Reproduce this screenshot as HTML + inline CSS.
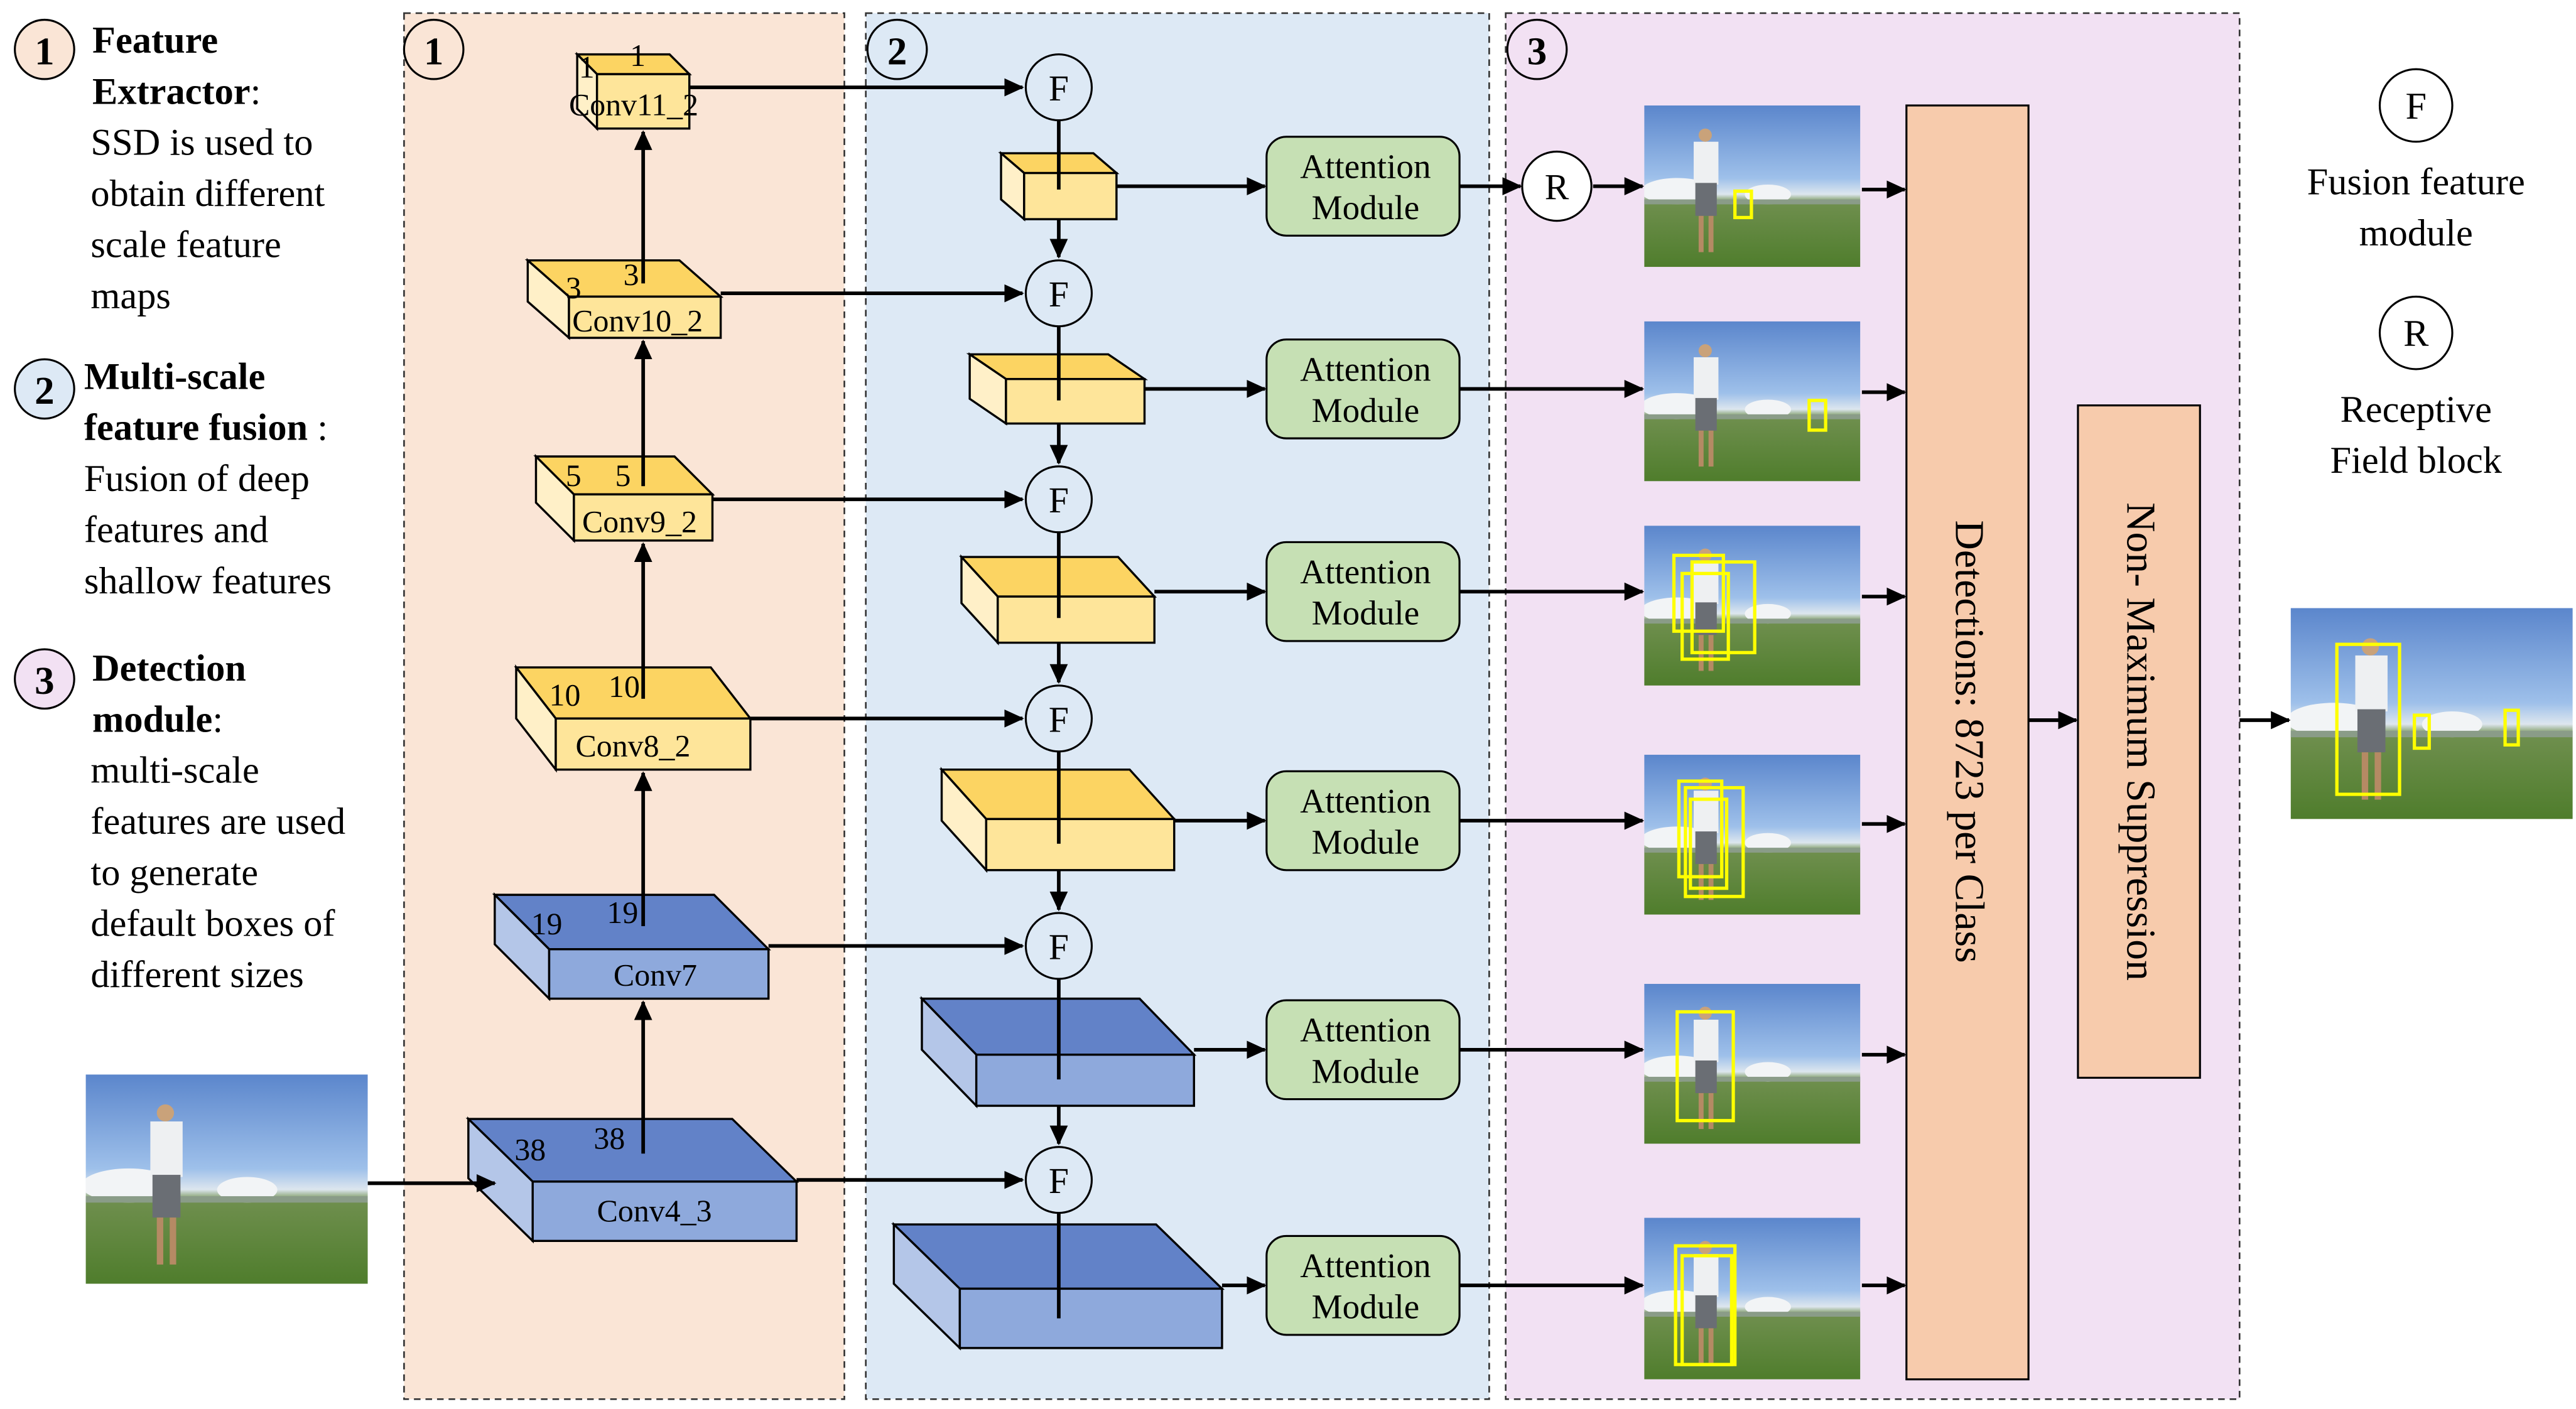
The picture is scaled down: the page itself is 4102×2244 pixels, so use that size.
<!DOCTYPE html>
<html><head><meta charset="utf-8"><style>
html,body{margin:0;padding:0;background:#fff}
svg{display:block}
text{font-family:"Liberation Serif","Times New Roman","DejaVu Serif",serif;fill:#000}
</style></head><body>
<svg width="4102" height="2244" viewBox="0 0 1562 855" preserveAspectRatio="none" xmlns="http://www.w3.org/2000/svg" font-family="Liberation Serif, Times New Roman, DejaVu Serif, serif">
<defs>
<marker id="ah" markerWidth="12" markerHeight="12" refX="11" refY="6" orient="auto" markerUnits="userSpaceOnUse"><path d="M0,0.5 L12,6 L0,11.5 z" fill="#000"/></marker>
<linearGradient id="sky" x1="0" y1="0" x2="0" y2="1"><stop offset="0" stop-color="#5b86cc"/><stop offset="0.45" stop-color="#9ec0ea"/><stop offset="0.55" stop-color="#dde6ee"/><stop offset="0.6" stop-color="#6f8f4e"/><stop offset="1" stop-color="#4f7d2c"/></linearGradient>
<symbol id="pic" viewBox="0 0 131 98" preserveAspectRatio="none">
<rect width="131" height="98" fill="url(#sky)"/>
<ellipse cx="20" cy="52" rx="22" ry="8" fill="#f2f4f6"/>
<ellipse cx="75" cy="54" rx="14" ry="6" fill="#f2f4f6"/>
<rect x="0" y="57" width="131" height="3" fill="#8a9c88"/>
<rect x="30" y="22" width="15" height="26" fill="#eef0f2"/>
<rect x="31" y="47" width="13" height="20" fill="#6a6e74"/>
<circle cx="37" cy="18" r="4" fill="#c9a27a"/>
<rect x="33" y="67" width="3" height="22" fill="#b58a64"/><rect x="39" y="67" width="3" height="22" fill="#b58a64"/>
</symbol>
</defs>

<rect x="245" y="8" width="267" height="841" fill="#fae5d6" stroke="#333" stroke-dasharray="4,3"/>
<rect x="525" y="8" width="378" height="841" fill="#dde9f5" stroke="#333" stroke-dasharray="4,3"/>
<rect x="913" y="8" width="445" height="841" fill="#f2e1f3" stroke="#333" stroke-dasharray="4,3"/>

<g stroke="#000" stroke-width="1.2">
<circle cx="263" cy="30" r="18" fill="none"/>
<circle cx="544" cy="30" r="18" fill="none"/>
<circle cx="932" cy="30" r="18" fill="none"/>
<circle cx="27" cy="30" r="18" fill="#fae5d6"/>
<circle cx="27" cy="236" r="18" fill="#dde9f5"/>
<circle cx="27" cy="412" r="18" fill="#f2e1f3"/>
</g>
<g font-weight="bold" font-size="24" text-anchor="middle">
<text x="263" y="39">1</text><text x="544" y="39">2</text><text x="932" y="39">3</text>
<text x="27" y="39">1</text><text x="27" y="245">2</text><text x="27" y="421">3</text>
</g>

<g font-size="23">
<text x="56" y="32" font-weight="bold">Feature</text>
<text x="56" y="63"><tspan font-weight="bold">Extractor</tspan>:</text>
<text x="55" y="94">SSD is used to</text>
<text x="55" y="125">obtain different</text>
<text x="55" y="156">scale  feature</text>
<text x="55" y="187">maps</text>
<text x="51" y="236" font-weight="bold">Multi-scale</text>
<text x="51" y="267"><tspan font-weight="bold">feature fusion</tspan> :</text>
<text x="51" y="298">Fusion of deep</text>
<text x="51" y="329">features and</text>
<text x="51" y="360">shallow features</text>
<text x="56" y="413" font-weight="bold">Detection</text>
<text x="56" y="444"><tspan font-weight="bold">module</tspan>:</text>
<text x="55" y="475">multi-scale</text>
<text x="55" y="506">features are used</text>
<text x="55" y="537">to generate</text>
<text x="55" y="568">default boxes of</text>
<text x="55" y="599">different sizes</text>
</g>

<g stroke="#000" stroke-width="1.2" fill="#fff">
<circle cx="1465" cy="64" r="22"/><circle cx="1465" cy="202" r="22"/>
</g>
<g font-size="23" text-anchor="middle">
<text x="1465" y="72">F</text><text x="1465" y="210">R</text>
<text x="1465" y="118">Fusion feature</text><text x="1465" y="149">module</text>
<text x="1465" y="256">Receptive</text><text x="1465" y="287">Field block</text>
</g>

<g stroke="#000" stroke-width="1.3">
<polygon points="350,33 406,33 418,45 362,45" fill="#fcd462"/>
<polygon points="350,33 362,45 362,78 350,66" fill="#fff0c8"/>
<rect x="362" y="45" width="56" height="33" fill="#fee59a"/>
<polygon points="320,158 412,158 437,180 345,180" fill="#fcd462"/>
<polygon points="320,158 345,180 345,205 320,183" fill="#fff0c8"/>
<rect x="345" y="180" width="92" height="25" fill="#fee59a"/>
<polygon points="325,277 409,277 432,300 348,300" fill="#fcd462"/>
<polygon points="325,277 348,300 348,328 325,305" fill="#fff0c8"/>
<rect x="348" y="300" width="84" height="28" fill="#fee59a"/>
<polygon points="313,405 431,405 455,436 337,436" fill="#fcd462"/>
<polygon points="313,405 337,436 337,467 313,436" fill="#fff0c8"/>
<rect x="337" y="436" width="118" height="31" fill="#fee59a"/>
<polygon points="300,543 433,543 466,576 333,576" fill="#6282c8"/>
<polygon points="300,543 333,576 333,606 300,573" fill="#b4c6e8"/>
<rect x="333" y="576" width="133" height="30" fill="#8ea9dc"/>
<polygon points="284,679 444,679 483,717 323,717" fill="#6282c8"/>
<polygon points="284,679 323,717 323,753 284,715" fill="#b4c6e8"/>
<rect x="323" y="717" width="160" height="36" fill="#8ea9dc"/>

<polygon points="607,93 663,93 677,105 621,105" fill="#fcd462"/>
<polygon points="607,93 621,105 621,133 607,121" fill="#fff0c8"/>
<rect x="621" y="105" width="56" height="28" fill="#fee59a"/>
<polygon points="588,215 672,215 694,230 610,230" fill="#fcd462"/>
<polygon points="588,215 610,230 610,257 588,242" fill="#fff0c8"/>
<rect x="610" y="230" width="84" height="27" fill="#fee59a"/>
<polygon points="583,338 678,338 700,362 605,362" fill="#fcd462"/>
<polygon points="583,338 605,362 605,390 583,366" fill="#fff0c8"/>
<rect x="605" y="362" width="95" height="28" fill="#fee59a"/>
<polygon points="571,467 685,467 712,497 598,497" fill="#fcd462"/>
<polygon points="571,467 598,497 598,528 571,498" fill="#fff0c8"/>
<rect x="598" y="497" width="114" height="31" fill="#fee59a"/>
<polygon points="559,606 691,606 724,640 592,640" fill="#6282c8"/>
<polygon points="559,606 592,640 592,671 559,637" fill="#b4c6e8"/>
<rect x="592" y="640" width="132" height="31" fill="#8ea9dc"/>
<polygon points="542,743 701,743 741,782 582,782" fill="#6282c8"/>
<polygon points="542,743 582,782 582,818 542,779" fill="#b4c6e8"/>
<rect x="582" y="782" width="159" height="36" fill="#8ea9dc"/>
</g>

<g font-size="19">
<text x="345" y="70">Conv11_2</text>
<text x="347" y="201">Conv10_2</text>
<text x="353" y="323">Conv9_2</text>
<text x="349" y="459">Conv8_2</text>
<text x="372" y="598">Conv7</text>
<text x="362" y="741">Conv4_3</text>
<text x="351" y="47">1</text><text x="382" y="40">1</text>
<text x="343" y="181">3</text><text x="378" y="173">3</text>
<text x="343" y="295">5</text><text x="373" y="295">5</text>
<text x="333" y="428">10</text><text x="369" y="423">10</text>
<text x="322" y="567">19</text><text x="368" y="560">19</text>
<text x="312" y="704">38</text><text x="360" y="697">38</text>
</g>

<g stroke="#000" stroke-width="2.2" marker-end="url(#ah)">
<line x1="390" y1="700" x2="390" y2="608"/>
<line x1="390" y1="562" x2="390" y2="469"/>
<line x1="390" y1="424" x2="390" y2="330"/>
<line x1="390" y1="295" x2="390" y2="207"/>
<line x1="390" y1="172" x2="390" y2="80"/>
<line x1="418" y1="53" x2="620" y2="53"/>
<line x1="437" y1="178" x2="620" y2="178"/>
<line x1="432" y1="303" x2="620" y2="303"/>
<line x1="455" y1="436" x2="620" y2="436"/>
<line x1="466" y1="574" x2="620" y2="574"/>
<line x1="483" y1="716" x2="620" y2="716"/>
<line x1="223" y1="718" x2="300" y2="718"/>
<line x1="642" y1="133" x2="642" y2="156"/>
<line x1="642" y1="257" x2="642" y2="281"/>
<line x1="642" y1="390" x2="642" y2="414"/>
<line x1="642" y1="528" x2="642" y2="552"/>
<line x1="642" y1="671" x2="642" y2="694"/>
<line x1="677" y1="113" x2="767" y2="113"/>
<line x1="694" y1="236" x2="767" y2="236"/>
<line x1="700" y1="359" x2="767" y2="359"/>
<line x1="712" y1="498" x2="767" y2="498"/>
<line x1="724" y1="637" x2="767" y2="637"/>
<line x1="741" y1="780" x2="767" y2="780"/>
<line x1="885" y1="113" x2="922" y2="113"/>
<line x1="966" y1="113" x2="996" y2="113"/>
<line x1="885" y1="236" x2="996" y2="236"/>
<line x1="885" y1="359" x2="996" y2="359"/>
<line x1="885" y1="498" x2="996" y2="498"/>
<line x1="885" y1="637" x2="996" y2="637"/>
<line x1="885" y1="780" x2="996" y2="780"/>
<line x1="1129" y1="115" x2="1155" y2="115"/>
<line x1="1129" y1="238" x2="1155" y2="238"/>
<line x1="1129" y1="362" x2="1155" y2="362"/>
<line x1="1129" y1="500" x2="1155" y2="500"/>
<line x1="1129" y1="640" x2="1155" y2="640"/>
<line x1="1129" y1="780" x2="1155" y2="780"/>
<line x1="1230" y1="437" x2="1259" y2="437"/>
<line x1="1358" y1="437" x2="1388" y2="437"/>
</g>
<g stroke="#000" stroke-width="2.2">
<line x1="642" y1="73" x2="642" y2="115"/>
<line x1="642" y1="198" x2="642" y2="243"/>
<line x1="642" y1="323" x2="642" y2="375"/>
<line x1="642" y1="456" x2="642" y2="512"/>
<line x1="642" y1="594" x2="642" y2="655"/>
<line x1="642" y1="736" x2="642" y2="800"/>
</g>

<g stroke="#000" stroke-width="1.2" fill="#dde9f5">
<circle cx="642" cy="53" r="20"/><circle cx="642" cy="178" r="20"/><circle cx="642" cy="303" r="20"/>
<circle cx="642" cy="436" r="20"/><circle cx="642" cy="574" r="20"/><circle cx="642" cy="716" r="20"/>
<circle cx="944" cy="113" r="21" fill="#fff"/>
</g>
<g font-size="22" text-anchor="middle">
<text x="642" y="61">F</text><text x="642" y="186">F</text><text x="642" y="311">F</text>
<text x="642" y="444">F</text><text x="642" y="582">F</text><text x="642" y="724">F</text>
<text x="944" y="121">R</text>
</g>

<g stroke="#000" stroke-width="1.2" fill="#c6e0b4">
<rect x="768" y="83" width="117" height="60" rx="12"/>
<rect x="768" y="206" width="117" height="60" rx="12"/>
<rect x="768" y="329" width="117" height="60" rx="12"/>
<rect x="768" y="468" width="117" height="60" rx="12"/>
<rect x="768" y="607" width="117" height="60" rx="12"/>
<rect x="768" y="750" width="117" height="60" rx="12"/>
</g>
<g font-size="21" text-anchor="middle">
<text x="828" y="108">Attention</text><text x="828" y="133">Module</text>
<text x="828" y="231">Attention</text><text x="828" y="256">Module</text>
<text x="828" y="354">Attention</text><text x="828" y="379">Module</text>
<text x="828" y="493">Attention</text><text x="828" y="518">Module</text>
<text x="828" y="632">Attention</text><text x="828" y="657">Module</text>
<text x="828" y="775">Attention</text><text x="828" y="800">Module</text>
</g>

<use href="#pic" x="52" y="652" width="171" height="127"/>
<use href="#pic" x="997" y="64" width="131" height="98"/>
<use href="#pic" x="997" y="195" width="131" height="97"/>
<use href="#pic" x="997" y="319" width="131" height="97"/>
<use href="#pic" x="997" y="458" width="131" height="97"/>
<use href="#pic" x="997" y="597" width="131" height="97"/>
<use href="#pic" x="997" y="739" width="131" height="98"/>
<use href="#pic" x="1389" y="369" width="171" height="128"/>
<g fill="none" stroke="#ffff00" stroke-width="2">
<rect x="1052" y="116" width="10" height="16"/>
<rect x="1097" y="243" width="10" height="18"/>
<rect x="1015" y="337" width="30" height="46"/><rect x="1026" y="341" width="38" height="55"/><rect x="1020" y="348" width="28" height="52"/>
<rect x="1018" y="474" width="26" height="58"/><rect x="1022" y="478" width="35" height="66"/><rect x="1025" y="485" width="22" height="54"/>
<rect x="1017" y="614" width="34" height="66"/>
<rect x="1016" y="756" width="36" height="72"/><rect x="1020" y="762" width="30" height="66"/>
<rect x="1417" y="391" width="38" height="91"/><rect x="1464" y="434" width="9" height="20"/><rect x="1519" y="431" width="8" height="21"/>
</g>

<rect x="1156" y="64" width="74" height="773" fill="#f7cbac" stroke="#000" stroke-width="1.2"/>
<rect x="1260" y="246" width="74" height="408" fill="#f7cbac" stroke="#000" stroke-width="1.2"/>
<text font-size="25" text-anchor="middle" transform="translate(1186,450) rotate(90)">Detections: 8723 per Class</text>
<text font-size="25" text-anchor="middle" transform="translate(1290,450) rotate(90)">Non- Maximum Suppression</text>
</svg>
</body></html>
